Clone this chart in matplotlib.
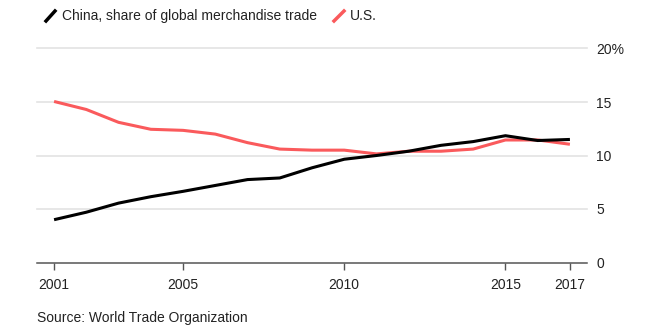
import matplotlib
matplotlib.use("Agg")
import matplotlib.pyplot as plt
from matplotlib.lines import Line2D

years = list(range(2001, 2018))
china = [4.0, 4.7, 5.55, 6.15, 6.65, 7.2, 7.75, 7.9, 8.85, 9.65, 10.0, 10.4, 10.95, 11.3, 11.85, 11.4, 11.5]
us = [15.05, 14.3, 13.1, 12.45, 12.35, 12.0, 11.2, 10.6, 10.5, 10.5, 10.15, 10.4, 10.4, 10.6, 11.45, 11.45, 11.05]
x_ticks = [2001, 2005, 2010, 2015, 2017]
y_ticks = [0, 5, 10, 15, 20]
y_labels = ["0", "5", "10", "15", "20%"]

plt.rcParams['font.family'] = ['Liberation Sans', 'DejaVu Sans']

fig = plt.figure(figsize=(6.69, 3.35), dpi=100)
ax = fig.add_axes([37/669, 1 - 262.5/335, 550/669, 214/335])

red = '#fa5a5c'
ax.plot(years, us, color=red, lw=2.2, solid_capstyle='butt', zorder=3)
ax.plot(years, china, color='black', lw=2.2, solid_capstyle='butt', zorder=4)

ax.set_xlim(2000.47, 2017.53)
ax.set_ylim(0, 20)
ax.set_yticks(y_ticks)
ax.set_yticklabels(y_labels)
ax.set_xticks(x_ticks)
ax.set_xticklabels([str(t) for t in x_ticks])

ax.yaxis.tick_right()
ax.tick_params(axis='y', length=0, pad=6.5, labelsize=10, labelcolor='#222222')
ax.tick_params(axis='x', length=5, width=1, color='#555555', pad=6, labelsize=10, labelcolor='#222222')
for lbl in ax.get_yticklabels():
    lbl.set_horizontalalignment('left')

for s in ['top', 'left', 'right']:
    ax.spines[s].set_visible(False)
ax.spines['bottom'].set_color('#555555')
ax.spines['bottom'].set_linewidth(1.1)
ax.spines['bottom'].set_zorder(5)

for y in y_ticks[1:]:
    ax.axhline(y, color='#e3e3e3', lw=1.2, zorder=1, clip_on=False)

# legend
fy = 1 - 16/335
fig.add_artist(Line2D([46/669, 55/669], [1 - 21/335, 1 - 11/335], color='black', lw=2.5, transform=fig.transFigure))
fig.text(62/669, fy, "China, share of global merchandise trade", fontsize=10, color='#222222', va='center', ha='left')
fig.add_artist(Line2D([334/669, 344/669], [1 - 21/335, 1 - 11/335], color=red, lw=2.5, transform=fig.transFigure))
fig.text(350/669, fy, "U.S.", fontsize=10, color='#222222', va='center', ha='left')

fig.text(37/669, 1 - 318/335, "Source: World Trade Organization", fontsize=10, color='#222222', va='center', ha='left')

fig.savefig("out.png", dpi=100)
